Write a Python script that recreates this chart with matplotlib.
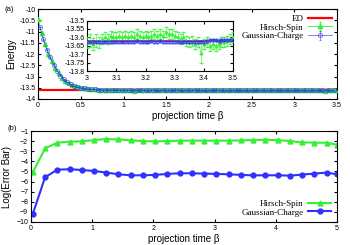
import numpy as np
import matplotlib
matplotlib.use('Agg')
import matplotlib.pyplot as plt

# ---- panel (a) data ----
ed_energy = -13.62

# Hirsch-Spin, beta = 0, 0.04, ... 3.48
hs_beta = np.arange(0, 3.481, 0.04)
hs_energy = [-10.45, -11.05, -11.55, -11.98, -12.30, -12.60, -12.85, -13.05, -13.20, -13.30,
             -13.38, -13.44, -13.48, -13.51, -13.53, -13.55, -13.56, -13.57, -13.58, -13.585,
             -13.59,
             -13.60, -13.59, -13.61, -13.60, -13.60, -13.62, -13.61, -13.64, -13.62, -13.60,
             -13.61, -13.59, -13.60, -13.61, -13.60, -13.59, -13.61, -13.60, -13.60, -13.61,
             -13.59, -13.60, -13.61, -13.60, -13.59, -13.60, -13.61, -13.60, -13.59, -13.60,
             -13.61, -13.60, -13.59, -13.60, -13.60, -13.61, -13.59, -13.60, -13.60, -13.59,
             -13.60, -13.61, -13.60, -13.59, -13.60, -13.59, -13.60, -13.61, -13.60, -13.59,
             -13.60, -13.59, -13.60, -13.60, -13.59, -13.60, -13.61, -13.60, -13.59, -13.60,
             -13.60, -13.61, -13.62, -13.63, -13.61, -13.62, -13.60]
hs_err = 0.02

# Gaussian-Charge, beta = 0.02, 0.06, ... 3.46
gc_beta = np.arange(0.02, 3.47, 0.04)
gc_energy = [-10.80, -11.35, -11.80, -12.15, -12.47, -12.75, -12.96, -13.13, -13.26, -13.35,
             -13.42, -13.47, -13.50, -13.53, -13.55, -13.56, -13.57, -13.58, -13.59, -13.595,
             -13.60, -13.60, -13.61, -13.61, -13.60, -13.61, -13.61, -13.62, -13.61, -13.62,
             -13.61, -13.62, -13.62, -13.61, -13.62, -13.62, -13.61, -13.62, -13.62, -13.62,
             -13.61, -13.62, -13.62, -13.62, -13.62, -13.61, -13.62, -13.62, -13.62, -13.62,
             -13.62, -13.62, -13.61, -13.62, -13.62, -13.62, -13.62, -13.62, -13.62, -13.62,
             -13.62, -13.62, -13.62, -13.62, -13.62, -13.62, -13.62, -13.62, -13.62, -13.62,
             -13.62, -13.62, -13.62, -13.62, -13.62, -13.62, -13.62, -13.62, -13.62, -13.62,
             -13.62, -13.62, -13.62, -13.62, -13.62, -13.62, -13.62]
gc_err = 0.006

# inset: beta = 3.00 ... 3.50
in_beta = np.arange(3.0, 3.5001, 0.01)
in_hs = [-13.63, -13.62, -13.64, -13.62, -13.63, -13.61, -13.60, -13.61, -13.59, -13.60,
         -13.60, -13.59, -13.60, -13.59, -13.60, -13.59, -13.60, -13.58, -13.59, -13.60,
         -13.59, -13.60, -13.59, -13.58, -13.59, -13.58, -13.59, -13.57, -13.58, -13.58,
         -13.59, -13.60, -13.61, -13.60, -13.62, -13.63, -13.62, -13.64, -13.63, -13.69,
         -13.64, -13.63, -13.65, -13.64, -13.65, -13.64, -13.63, -13.63, -13.62, -13.61,
         -13.60]
in_hs_err = [0.035, 0.04, 0.035, 0.04, 0.035, 0.03, 0.03, 0.03, 0.03, 0.03,
             0.03, 0.03, 0.03, 0.03, 0.03, 0.03, 0.03, 0.03, 0.03, 0.03,
             0.03, 0.03, 0.03, 0.03, 0.03, 0.03, 0.03, 0.03, 0.03, 0.03,
             0.03, 0.03, 0.03, 0.03, 0.03, 0.03, 0.03, 0.03, 0.03, 0.06,
             0.03, 0.03, 0.03, 0.03, 0.03, 0.03, 0.03, 0.03, 0.03, 0.03,
             0.03]
in_gc = [-13.625, -13.63, -13.625, -13.63, -13.625, -13.625, -13.63, -13.625, -13.625, -13.625,
         -13.625, -13.625, -13.63, -13.625, -13.625, -13.625, -13.625, -13.62, -13.625, -13.625,
         -13.625, -13.625, -13.62, -13.625, -13.625, -13.62, -13.625, -13.625, -13.625, -13.625,
         -13.625, -13.625, -13.63, -13.625, -13.625, -13.625, -13.625, -13.625, -13.625, -13.625,
         -13.625, -13.62, -13.615, -13.615, -13.615, -13.62, -13.615, -13.615, -13.615, -13.615,
         -13.615]
in_gc_err = 0.006

# ---- panel (b) data ----
b_beta = [0.03, 0.23, 0.43, 0.63, 0.83, 1.03, 1.23, 1.43, 1.63, 1.83, 2.03, 2.23, 2.43,
          2.63, 2.83, 3.03, 3.23, 3.43, 3.63, 3.83, 4.03, 4.23, 4.43, 4.63, 4.83, 5.0]
b_hs = [-5.08, -2.71, -2.15, -2.05, -2.02, -1.89, -1.79, -1.82, -1.92, -1.99, -2.02, -1.99, -1.95,
        -1.95, -1.95, -1.95, -1.95, -1.92, -1.89, -1.86, -1.89, -1.99, -2.12, -2.15, -2.15, -2.35]
b_gc = [-9.19, -5.57, -4.82, -4.78, -4.85, -4.95, -5.11, -5.28, -5.38, -5.38, -5.34, -5.24, -5.18,
        -5.18, -5.21, -5.24, -5.28, -5.34, -5.38, -5.38, -5.38, -5.41, -5.31, -5.21, -5.11, -5.28]

green = '#33f033'
blue = '#3030ff'
red = '#ff0000'
tick_fs = 5
lab_fs = 7

plt.rcParams['font.family'] = ['Liberation Sans', 'DejaVu Sans']
plt.rcParams['xtick.direction'] = 'in'
plt.rcParams['ytick.direction'] = 'in'
plt.rcParams['xtick.top'] = True
plt.rcParams['ytick.right'] = True
plt.rcParams['xtick.major.size'] = 2.5
plt.rcParams['ytick.major.size'] = 2.5
plt.rcParams['xtick.major.pad'] = 2.5
plt.rcParams['ytick.major.pad'] = 2
plt.rcParams['axes.linewidth'] = 0.8

fig = plt.figure(figsize=(3.5, 2.45), dpi=100)

# panel (a)
ax1 = fig.add_axes([0.109, 0.596, 0.854, 0.367])
ax1.axhline(ed_energy, color=red, lw=1.6, label='ED', zorder=2)
ax1.errorbar(hs_beta, hs_energy, yerr=hs_err, color=green, marker='^', ms=3, lw=0.6,
             elinewidth=0.5, capsize=1, mfc=green, mec=green, label='Hirsch-Spin', zorder=3)
ax1.errorbar(gc_beta, gc_energy, yerr=gc_err, color=blue, marker='o', ms=3, lw=0.6,
             elinewidth=0.5, capsize=1, mfc='none', mec=blue, mew=0.6, alpha=0.7,
             label='Gaussian-Charge', zorder=4)
ax1.set_xlim(0, 3.5)
ax1.set_ylim(-14, -10)
ax1.set_xticks(np.arange(0, 3.51, 0.5))
ax1.set_xticklabels(['0', '0.5', '1', '1.5', '2', '2.5', '3', '3.5'])
ax1.set_yticks(np.arange(-14, -9.9, 0.5))
ax1.set_yticklabels(['-14', '-13.5', '-13', '-12.5', '-12', '-11.5', '-11', '-10.5', '-10'])
ax1.tick_params(labelsize=tick_fs)
ax1.set_xlabel('projection time β', fontsize=lab_fs, labelpad=1)
ax1.set_ylabel('Energy', fontsize=lab_fs, labelpad=2)
ax1.legend(loc='upper right', markerfirst=False, frameon=False,
           prop={'family': 'Liberation Serif', 'size': 6.5}, handlelength=2.6,
           labelspacing=0.05, borderaxespad=0.2, handletextpad=0.5)

# inset
ax_in = fig.add_axes([0.249, 0.710, 0.417, 0.206])
ax_in.axhline(ed_energy, color=red, lw=1.2, zorder=2)
ax_in.errorbar(in_beta, in_hs, yerr=in_hs_err, color=green, marker='^', ms=2, lw=0.5,
               elinewidth=0.5, capsize=1.2, zorder=3, alpha=0.8)
ax_in.errorbar(in_beta, in_gc, yerr=in_gc_err, color=blue, marker='o', ms=2.4, lw=0.6,
               elinewidth=0.5, capsize=1, mfc='none', mec=blue, mew=0.6, zorder=4, alpha=0.85)
ax_in.set_xlim(3, 3.5)
ax_in.set_ylim(-13.8, -13.5)
ax_in.set_xticks([3, 3.1, 3.2, 3.3, 3.4, 3.5])
ax_in.set_xticklabels(['3', '3.1', '3.2', '3.3', '3.4', '3.5'])
ax_in.set_yticks(np.arange(-13.8, -13.49, 0.05))
ax_in.set_yticklabels(['-13.8', '-13.75', '-13.7', '-13.65', '-13.6', '-13.55', '-13.5'])
ax_in.tick_params(labelsize=tick_fs, length=2)

# panel (b)
ax2 = fig.add_axes([0.0886, 0.094, 0.874, 0.371])
ax2.plot(b_beta, b_hs, color=green, marker='^', ms=3.5, lw=1.5, label='Hirsch-Spin')
ax2.plot(b_beta, b_gc, color=blue, marker='o', ms=3.5, lw=1.5, label='Gaussian-Charge')
ax2.set_xlim(0, 5)
ax2.set_ylim(-10, -1)
ax2.set_xticks(range(0, 6))
ax2.set_yticks(range(-10, 0))
ax2.tick_params(labelsize=tick_fs)
ax2.set_xlabel('projection time β', fontsize=lab_fs, labelpad=1)
ax2.set_ylabel('Log(Error Bar)', fontsize=lab_fs, labelpad=3)
ax2.legend(loc='lower right', markerfirst=False, frameon=False,
           prop={'family': 'Liberation Serif', 'size': 6.5}, handlelength=2.6,
           labelspacing=0.05, borderaxespad=0.2, handletextpad=0.5)

fig.text(0.012, 0.975, '(a)', fontsize=5.5, va='top')
fig.text(0.02, 0.488, '(b)', fontsize=5.5, va='top')

fig.savefig('out.png', dpi=100)
